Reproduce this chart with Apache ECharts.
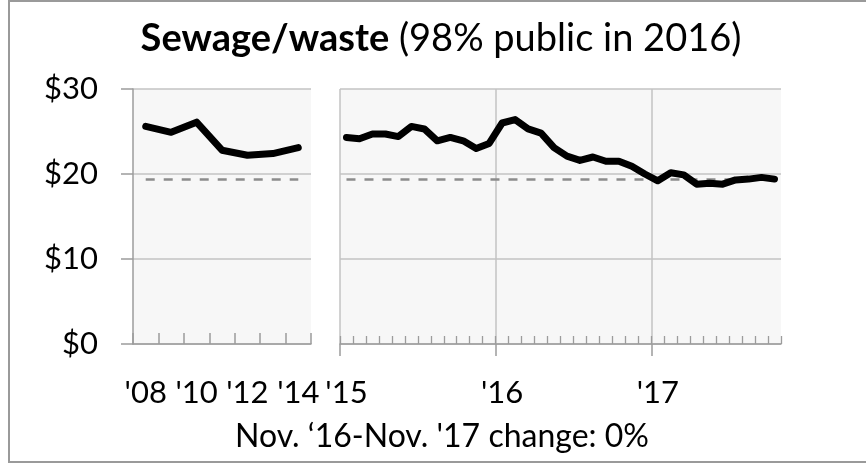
<!DOCTYPE html>
<html>
<head>
<meta charset="utf-8">
<script src="https://cdn.jsdelivr.net/npm/echarts@6/dist/echarts.min.js"></script>
<style>
  html, body { margin: 0; padding: 0; background: #fff; }
  #chart { width: 866px; height: 463px; }
</style>
</head>
<body>
<div id="chart"></div>
<script>
/* Annual panel */
var years = ["'08", "'09", "'10", "'11", "'12", "'13", "'14"];
var yearValues = [25.6, 24.9, 26.1, 22.8, 22.2, 22.4, 23.1];

/* Monthly panel, Jan '15 onwards */
var months = [
  '2015-01', '2015-02', '2015-03', '2015-04', '2015-05', '2015-06',
  '2015-07', '2015-08', '2015-09', '2015-10', '2015-11', '2015-12',
  '2016-01', '2016-02', '2016-03', '2016-04', '2016-05', '2016-06',
  '2016-07', '2016-08', '2016-09', '2016-10', '2016-11', '2016-12',
  '2017-01', '2017-02', '2017-03', '2017-04', '2017-05', '2017-06',
  '2017-07', '2017-08', '2017-09', '2017-10'
];
var monthValues = [
  24.3, 24.15, 24.7, 24.7, 24.4, 25.6, 25.3, 23.9, 24.3, 23.9, 23.0, 23.6,
  26.0, 26.4, 25.3, 24.8, 23.1, 22.1, 21.6, 22.0, 21.5, 21.5, 20.9, 20.0,
  19.2, 20.15, 19.9, 18.8, 18.9, 18.8, 19.3, 19.4, 19.6, 19.4
];
var yearTickLabels = { '2015-01': "'15", '2016-01': "'16", '2017-01': "'17" };

/* latest value, drawn as dashed reference */
var latest = 19.4;
var yTicks = [0, 10, 20, 30];

var FONT = 'Lato';
var gridCol = '#c3c3c3';
var axisCol = '#9c9c9c';

var chart = echarts.init(document.getElementById('chart'));

function yAxisBase(showLabels) {
  return {
    type: 'value',
    min: yTicks[0],
    max: yTicks[yTicks.length - 1],
    interval: 10,
    axisLine: { show: showLabels, lineStyle: { color: axisCol, width: 1.5 } },
    axisTick: { show: showLabels, length: 12, lineStyle: { color: axisCol, width: 1.5 } },
    axisLabel: {
      show: showLabels, margin: 35, color: '#000',
      fontFamily: FONT, fontSize: 31,
      formatter: function (v) { return '$' + v; }
    },
    splitLine: { show: true, lineStyle: { color: gridCol, width: 1.5 } }
  };
}

var dashed = { color: '#8c8c8c', width: 2.5, type: [9, 9] };
var mainLine = { color: '#000', width: 7, cap: 'round', join: 'round' };

var option = {
  animation: false,
  grid: [
    { left: 133, top: 89, width: 178, height: 255, show: true, backgroundColor: '#f7f7f7', borderWidth: 0 },
    { left: 340, top: 89, width: 441, height: 255, show: true, backgroundColor: '#f7f7f7', borderWidth: 0 }
  ],
  xAxis: [
    {
      type: 'category', gridIndex: 0, data: years, boundaryGap: true, position: 'bottom',
      axisLine: { lineStyle: { color: axisCol, width: 1.5 } },
      axisTick: { show: true, inside: true, length: 11, interval: 0, lineStyle: { color: axisCol, width: 1.5 } },
      axisLabel: { interval: 1, margin: 33, color: '#000', fontFamily: FONT, fontSize: 31 },
      splitLine: { show: false }
    },
    {
      type: 'category', gridIndex: 1, data: months, boundaryGap: true, position: 'bottom',
      axisLine: { lineStyle: { color: axisCol, width: 1.5 } },
      axisTick: { show: true, inside: true, length: 8, interval: 0, lineStyle: { color: axisCol, width: 1.3 } },
      axisLabel: {
        margin: 33, color: '#000', fontFamily: FONT, fontSize: 31,
        interval: function (i, v) { return !!yearTickLabels[v]; },
        formatter: function (v) { return yearTickLabels[v] || ''; }
      },
      splitLine: { show: false }
    },
    {
      /* month edges: year boundaries get long ticks and gridlines */
      type: 'category', gridIndex: 1, data: months.concat(['end']), boundaryGap: false, position: 'bottom',
      axisLine: { show: false },
      axisTick: {
        show: true, length: 12,
        interval: function (i) { return i % 12 === 0; },
        lineStyle: { color: axisCol, width: 1.5 }
      },
      axisLabel: { show: false },
      splitLine: {
        show: true,
        interval: function (i) { return i % 12 === 0; },
        lineStyle: { color: gridCol, width: 1.5 }
      }
    }
  ],
  yAxis: [
    Object.assign(yAxisBase(true), { gridIndex: 0 }),
    Object.assign(yAxisBase(false), { gridIndex: 1 })
  ],
  graphic: [
    {
      type: 'rect', silent: true, z: -1,
      shape: { x: 9, y: 1, width: 900, height: 461 },
      style: { fill: 'none', stroke: '#9a9a9a', lineWidth: 2 }
    },
    {
      type: 'text', x: 441, y: 39,
      style: {
        text: '{b|Sewage/waste}{r|\u00a0(98% public in 2016)}',
        align: 'center', verticalAlign: 'middle',
        rich: {
          b: { fontFamily: FONT, fontWeight: 'bold', fontSize: 38, fill: '#000' },
          r: { fontFamily: FONT, fontSize: 38, fill: '#000' }
        }
      }
    },
    {
      type: 'text', x: 442, y: 437,
      style: {
        text: "Nov. \u201816-Nov. '17 change: 0%",
        align: 'center', verticalAlign: 'middle',
        fontFamily: FONT, fontSize: 32, fill: '#000'
      }
    }
  ],
  series: [
    {
      type: 'line', xAxisIndex: 0, yAxisIndex: 0, data: yearValues,
      symbol: 'none', z: 3, lineStyle: mainLine,
      markLine: {
        silent: true, symbol: 'none', z: 1, label: { show: false },
        lineStyle: dashed,
        data: [[{ coord: [years[0], latest] }, { coord: [years[years.length - 1], latest] }]]
      }
    },
    {
      type: 'line', xAxisIndex: 1, yAxisIndex: 1, data: monthValues,
      symbol: 'none', z: 3, lineStyle: mainLine,
      markLine: {
        silent: true, symbol: 'none', z: 1, label: { show: false },
        lineStyle: dashed,
        data: [[{ coord: [months[0], latest] }, { coord: [months[months.length - 1], latest] }]]
      }
    }
  ]
};
chart.setOption(option);
</script>
</body>
</html>
